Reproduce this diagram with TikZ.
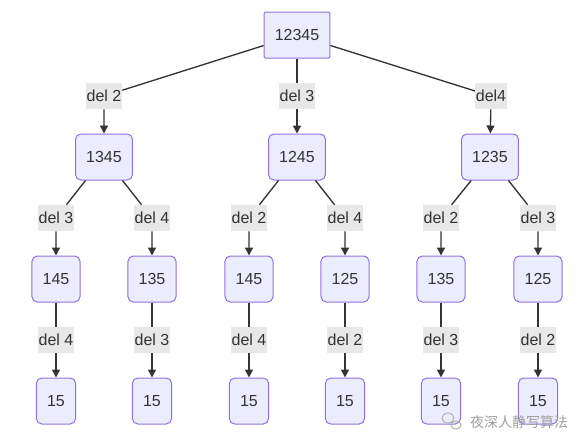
\documentclass[tikz,border=0pt]{standalone}
\usepackage{fontspec}
\setmainfont{Liberation Sans}
\newfontfamily\cjk{Noto Sans CJK SC}
\usetikzlibrary{arrows.meta}
\definecolor{nodefill}{HTML}{ECECFF}
\definecolor{nodeline}{HTML}{9370DB}
\definecolor{labfill}{HTML}{E8E8E8}
\definecolor{ink}{HTML}{333333}

\begin{document}
\begin{tikzpicture}[x=0.75pt,y=-0.75pt,>={Triangle[length=6pt,width=6pt]},
  num/.style={draw=nodeline,fill=nodefill,rounded corners=4pt,line width=0.75pt,
    inner xsep=8pt,minimum height=34.5pt,text=ink,font=\fontsize{12}{14}\selectfont},
  lab/.style={fill=labfill,inner xsep=0.5pt,inner ysep=0pt,minimum height=19.5pt,
    text=ink,font=\fontsize{12}{14}\selectfont},
  edge/.style={draw=ink,line width=1pt}]
\useasboundingbox (0,0) rectangle (587,446);
% tree nodes
\node[num,rounded corners=1pt] (top) at (297,35) {12345};
\node[num] (a) at (104,157) {1345};
\node[num] (b) at (297,157) {1245};
\node[num] (c) at (490,157) {1235};
\node[num] (p1) at (56,279) {145};
\node[num] (p2) at (152,279) {135};
\node[num] (p3) at (249,279) {145};
\node[num] (p4) at (345,279) {125};
\node[num] (p5) at (441,279) {135};
\node[num] (p6) at (538,279) {125};
\foreach \i/\x in {1/56,2/152,3/249,4/345,5/441,6/538}
  \node[num] (q\i) at (\x,401) {15};
% edge labels
\node[lab] (l1) at (104,96) {del 2};
\node[lab] (l2) at (297,96) {del 3};
\node[lab] (l3) at (491,96) {del4};
\node[lab] (m1) at (56,218) {del 3};
\node[lab] (m2) at (152,218) {del 4};
\node[lab] (m3) at (249,218) {del 2};
\node[lab] (m4) at (345,218) {del 4};
\node[lab] (m5) at (441,218) {del 2};
\node[lab] (m6) at (538,218) {del 3};
\node[lab] (k1) at (56,340) {del 4};
\node[lab] (k2) at (152,340) {del 3};
\node[lab] (k3) at (249,340) {del 4};
\node[lab] (k4) at (345,340) {del 2};
\node[lab] (k5) at (441,340) {del 3};
\node[lab] (k6) at (538,340) {del 2};
% connectors
\foreach \s/\l/\t in {top/l1/a,top/l2/b,top/l3/c,a/m1/p1,a/m2/p2,b/m3/p3,b/m4/p4,c/m5/p5,c/m6/p6}
  \draw[edge,->] (\s) -- (\l) -- (\t);
\foreach \i in {1,...,6}
  \draw[edge,->] (p\i) -- (k\i) -- (q\i);
% watermark
\draw[gray!60,line width=0.8pt] (448,418) ellipse (6 and 5) (456,425) ellipse (5 and 4);
\node[font=\cjk\fontsize{10.5}{12}\selectfont,text=gray!75] (mark) at (519,422) {夜深人静写算法};
\end{tikzpicture}
\end{document}
